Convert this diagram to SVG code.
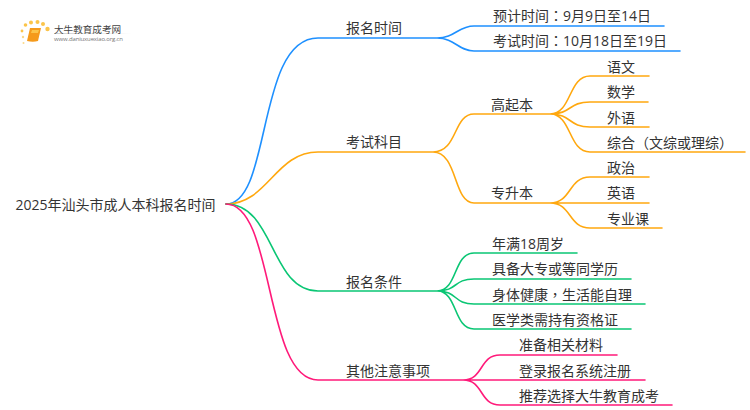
<svg xmlns="http://www.w3.org/2000/svg" width="750" height="410" viewBox="0 0 750 410">
<defs><linearGradient id="fade"><stop offset="0" stop-color="#ccc"/><stop offset="1" stop-color="#fff"/></linearGradient></defs>
<style>
text{font-family:"Open Sans","Noto Sans CJK SC",sans-serif;font-size:14px;fill:#333}
.t{font-family:"Noto Sans CJK TC",sans-serif}
.c{fill:none;stroke-width:1.6;stroke-linecap:round}
.b{stroke:#1e90ff}.o{stroke:#ffa80f}.g{stroke:#0ac674}.p{stroke:#ff1a7a}
.d{fill:#fbc44a}
</style>
<rect width="750" height="410" fill="#fff"/>
<g id="logo">
<circle class="d" cx="25.500" cy="25" r="1.800"/><circle class="d" cx="22" cy="31" r="1.400"/><circle class="d" cx="31" cy="22.500" r="2"/><circle class="d" cx="37.500" cy="22" r="2"/><circle class="d" cx="43" cy="24" r="2"/><circle class="d" cx="47.500" cy="29" r="2.200"/><circle cx="23" cy="37" r="1.200" fill="#fbd98a"/><circle cx="23.500" cy="43" r="1" fill="#fbd98a"/>
<path d="M30 28H41L38 41Q33 42.500 27 41Z" fill="#f59a1b"/><path d="M32 30H39L38 33H31Z" fill="#fbc44a"/>
<rect x="54" y="33" width="78" height="1" fill="url(#fade)"/>
<text x="54" y="33" style="font-size:9.600px;fill:#444">大牛教育成考网</text>
<text x="54" y="41" style="font-size:6px;fill:#777" textLength="69">www.daniuxuexiao.org.cn</text>
</g>
<g id="connectors">
<path class="c b" d="M226 204C272 204 256 38 318 38H437C455 38 458 26 474 26H664M437 38C455 38 458 51 474 51H680"/>
<path class="c o" d="M226 204C268 204 275 152 318 152H433C458 152 453 114 474 114H550C572 114 568 76 590 76H649M550 114C572 114 568 102 590 102H648M550 114C572 114 568 127 590 127H649M550 114C572 114 568 152 590 152H745M433 152C458 152 453 203 474 203H550C572 203 568 177 590 177H649M550 203H649M550 203C572 203 568 228 590 228H662"/>
<path class="c g" d="M226 204C275 204 270 291 318 291H437C458 291 453 253 474 253H577M437 291C458 291 453 279 474 279H631M437 291C458 291 453 304 474 304H645M437 291C458 291 453 329 474 329H631"/>
<path class="c p" d="M226 204C275 204 264 380 318 380H463C484 380 479 355 500 355H617M463 380H645M463 380C484 380 479 405 500 405H672"/>
</g>
<g id="root"><text x="15.500" y="210">2025年汕头市成人本科报名时间</text></g>
<g id="n1"><text x="346" y="33">报名时间</text></g>
<g id="n1a"><text x="493" y="21">预计时间<tspan class="t">：</tspan>9月9日至14日</text></g>
<g id="n1b"><text x="493" y="46">考试时间<tspan class="t">：</tspan>10月18日至19日</text></g>
<g id="n2"><text x="346" y="147">考试科目</text></g>
<g id="n2a"><text x="491" y="110">高起本</text></g>
<g id="n2a1"><text x="607" y="72">语文</text></g>
<g id="n2a2"><text x="607" y="97">数学</text></g>
<g id="n2a3"><text x="607" y="123">外语</text></g>
<g id="n2a4"><text x="607" y="148">综合<tspan class="t">（</tspan>文综或理综<tspan class="t">）</tspan></text></g>
<g id="n2b"><text x="491" y="198">专升本</text></g>
<g id="n2b1"><text x="607" y="173">政治</text></g>
<g id="n2b2"><text x="607" y="198">英语</text></g>
<g id="n2b3"><text x="607" y="224">专业课</text></g>
<g id="n3"><text x="346" y="287">报名条件</text></g>
<g id="n3a"><text x="492" y="249">年满18周岁</text></g>
<g id="n3b"><text x="492" y="274">具备大专或等同学历</text></g>
<g id="n3c"><text x="492" y="300">身体健康<tspan class="t">，</tspan>生活能自理</text></g>
<g id="n3d"><text x="492" y="325">医学类需持有资格证</text></g>
<g id="n4"><text x="346" y="376">其他注意事项</text></g>
<g id="n4a"><text x="519" y="350">准备相关材料</text></g>
<g id="n4b"><text x="519" y="376">登录报名系统注册</text></g>
<g id="n4c"><text x="519" y="401">推荐选择大牛教育成考</text></g>
</svg>
